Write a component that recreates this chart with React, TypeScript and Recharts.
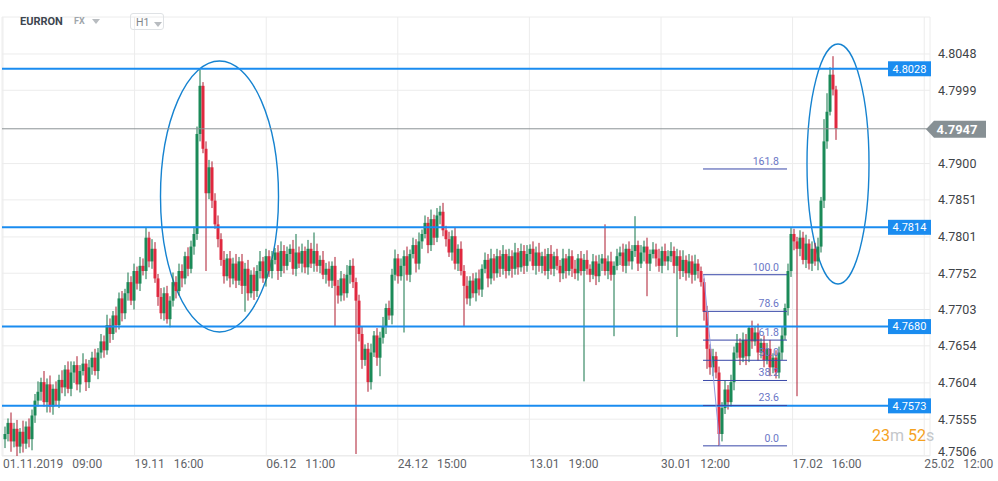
import React from 'react';
import { ComposedChart, Bar, XAxis, YAxis, CartesianGrid, ReferenceLine, ReferenceArea } from 'recharts';

// ---------- data (prices in pips above 4.7500) ----------
const BASE = 4.75;
const PIP = 0.0001;
const firstOpen = 28;

const closesA = [
  35, 50, 25, 42, 18, 38, 22, 45, 28, 60,
  80, 92, 105, 78, 102, 72, 96, 80, 108, 98,
  122, 96, 118, 128, 102, 120, 130, 105, 125, 138,
  120, 145, 160, 148, 182, 170, 195, 182, 218, 198,
  225, 240, 215, 255, 238, 262, 255, 300, 268, 285,
  245, 220, 198, 225, 190, 215, 240, 228, 255, 245,
  275, 258, 288, 305, 440, 505, 420, 360, 395, 350,
];
const closesB = [
  318, 298, 270, 248, 272, 245, 265, 242, 268, 235,
  258, 225, 250, 228, 255, 268, 245, 275, 255, 270,
  280, 255, 282, 262, 278, 285, 258, 280, 265, 282,
  260, 285, 265, 282, 262, 270, 250, 258, 242, 262,
  235, 222, 245, 225, 250, 262, 240, 215, 170, 135,
  150, 105, 145, 168, 138, 165, 180, 205, 195, 250,
  272, 248, 262, 275, 250, 278, 290, 265, 295, 305,
];
const closesC = [
  320, 290, 325, 300, 330, 335, 310, 298, 280, 302,
  265, 285, 255, 235, 218, 242, 225, 245, 230, 258,
  270, 245, 272, 252, 275, 258, 278, 255, 275, 258,
  280, 260, 282, 262, 278, 285, 262, 280, 262, 275,
  255, 278, 258, 275, 262, 252, 272, 255, 275, 258,
  252, 272, 255, 270, 258, 250, 268, 248, 265, 272,
  255, 268, 250, 262, 275, 280, 262, 285, 268, 282,
];
const closesD = [
  290, 265, 280, 288, 265, 278, 284, 272, 262, 282,
  268, 275, 282, 262, 275, 255, 270, 252, 268, 250,
  265, 255, 240, 200, 150, 125, 140, 118, 35, 70,
  95, 78, 105, 145, 158, 138, 162, 140, 178, 160,
  172, 145, 158, 135, 150, 125, 138, 118, 145, 168,
  205, 255, 305, 295, 285, 300, 270, 292, 265, 285,
  268, 288, 350, 430, 470, 520, 500, 447,
];

const highWick = [
  10, 6, 14, 8, 12, 5, 15, 7, 11, 8,
  9, 14, 6, 15, 8, 12, 6, 10, 7, 13,
  6, 11, 15, 5, 12, 8, 14, 6, 10, 8,
  12, 6, 10, 8, 14, 9, 6, 12, 8, 10,
  6, 13, 8, 10, 6, 12, 10, 14, 8, 13,
  9, 6, 12, 8, 10, 6, 13, 8, 10, 9,
  6, 12, 8, 10, 10, 22, 5, 10, 10, 8,
  10, 12, 8, 12, 6, 10, 8, 13, 6, 10,
  8, 12, 6, 10, 8, 14, 6, 10, 8, 12,
  6, 10, 13, 8, 10, 6, 12, 25, 8, 10,
  6, 12, 8, 25, 10, 6, 12, 8, 10, 6,
  12, 8, 10, 6, 13, 8, 10, 6, 8, 10,
  6, 8, 12, 6, 10, 8, 13, 6, 10, 8,
  12, 6, 10, 8, 13, 6, 10, 8, 12, 6,
  10, 8, 13, 6, 10, 8, 12, 6, 10, 8,
  12, 6, 10, 8, 13, 6, 10, 8, 12, 6,
  10, 8, 13, 6, 10, 8, 12, 6, 10, 8,
  13, 6, 10, 8, 12, 6, 10, 8, 13, 6,
  10, 8, 12, 6, 10, 8, 13, 6, 10, 8,
  12, 6, 10, 8, 13, 6, 10, 8, 12, 6,
  46, 8, 13, 6, 10, 8, 12, 6, 10, 8,
  39, 6, 10, 8, 12, 6, 10, 8, 13, 6,
  10, 8, 12, 6, 10, 8, 13, 6, 10, 8,
  12, 6, 6, 5, 8, 6, 10, 6, 8, 8,
  12, 6, 10, 8, 12, 6, 10, 8, 2, 10,
  8, 12, 6, 10, 8, 12, 6, 10, 8, 12,
  6, 10, 8, 7, 6, 10, 8, 12, 6, 10,
  8, 12, 5, 30, 25, 10, 25, 5,
];
const lowWick = [
  12, 10, 14, 8, 15, 9, 12, 7, 11, 15,
  10, 8, 12, 6, 14, 8, 11, 6, 10, 8,
  12, 6, 10, 14, 8, 11, 6, 12, 8, 10,
  6, 11, 8, 10, 6, 12, 8, 10, 6, 11,
  8, 10, 6, 12, 8, 10, 6, 11, 8, 10,
  6, 12, 8, 10, 6, 11, 8, 10, 6, 12,
  8, 10, 6, 11, 8, 10, 6, 105, 8, 10,
  6, 11, 8, 10, 6, 12, 8, 10, 6, 11,
  35, 10, 6, 12, 8, 10, 6, 11, 8, 10,
  6, 12, 8, 10, 6, 11, 8, 10, 6, 12,
  8, 10, 6, 11, 8, 10, 6, 12, 8, 10,
  55, 11, 8, 10, 6, 12, 8, 207, 10, 12,
  8, 13, 10, 6, 11, 25, 8, 10, 6, 12,
  8, 10, 6, 90, 8, 10, 6, 12, 8, 10,
  6, 11, 8, 10, 6, 12, 8, 10, 6, 11,
  8, 10, 6, 55, 8, 10, 6, 11, 8, 10,
  6, 12, 8, 10, 6, 11, 8, 10, 6, 12,
  8, 10, 6, 11, 8, 10, 6, 12, 8, 10,
  6, 11, 8, 10, 6, 12, 8, 10, 6, 11,
  8, 10, 6, 149, 8, 10, 6, 12, 8, 10,
  6, 11, 8, 83, 6, 12, 8, 10, 6, 11,
  8, 10, 6, 12, 44, 10, 6, 11, 8, 10,
  6, 12, 8, 10, 96, 11, 8, 10, 6, 12,
  8, 10, 6, 12, 27, 10, 12, 8, 16, 10,
  8, 10, 6, 11, 8, 10, 6, 12, 8, 10,
  6, 11, 8, 10, 6, 12, 8, 8, 8, 10,
  6, 10, 8, 12, 199, 10, 6, 11, 8, 10,
  6, 12, 8, 10, 10, 5, 8, 15,
];

// x axis (bar index units)
const X_MAX = 309.33;
const xTickIdx = [0.33, 44.2, 88.07, 131.93, 175.8, 219.67, 263.53, 307.4];
const xTickDate = ['01.11.2019', '19.11', '06.12', '24.12', '13.01', '30.01', '17.02', '25.02'];
const xTickTime = ['09:00', '16:00', '11:00', '15:00', '19:00', '12:00', '16:00', '12:00'];

// y axis
const Y_DOMAIN: [number, number] = [4.75053, 4.80979];
const yTicks = [4.8048, 4.7999, 4.79, 4.7851, 4.7801, 4.7752, 4.7703, 4.7654, 4.7604, 4.7555, 4.7506];

// support / resistance levels
const levels = [4.8028, 4.7814, 4.768, 4.7573];
const lastPrice = 4.7947;

// fibonacci retracement
const fibLow = 4.7519;
const fibHigh = 4.775;
const fibRatios = [0, 23.6, 38.2, 50, 61.8, 78.6, 100, 161.8];
const fibStartIdx = 233.67;
const fibEndIdx = 261.67;
const fibDiagFrom = { x: 233.9, y: 4.775 };
const fibDiagTo = { x: 239.3, y: 4.7519 };

// highlight ellipses
const ellipses = [
  { x1: 52.83, x2: 92.17, y1: 4.76727, y2: 4.80386 },
  { x1: 268.33, x2: 289.0, y1: 4.77375, y2: 4.80615 },
];

const closes = [...closesA, ...closesB, ...closesC, ...closesD];
const candles = closes.map((c, k) => {
  const o = k === 0 ? firstOpen : closes[k - 1];
  const hi = Math.max(o, c) + highWick[k];
  const lo = Math.min(o, c) - lowWick[k];
  return {
    i: k + 1,
    open: BASE + o * PIP,
    close: BASE + c * PIP,
    high: BASE + hi * PIP,
    low: BASE + lo * PIP,
  };
});

// ---------- rendering helpers ----------
const Candle = (props: any) => {
  const { x, y, width, height, payload } = props;
  if (!payload || x == null) return null;
  const { open, close, high, low } = payload;
  const top = Math.min(y, y + height);
  const h = Math.abs(height);
  const range = high - low;
  const k = range > 0 ? h / range : 0;
  const cx = x + width / 2;
  const up = close >= open;
  const bTop = top + (high - Math.max(open, close)) * k;
  const bBot = top + (high - Math.min(open, close)) * k;
  const bh = Math.max(1, bBot - bTop);
  return (
    <g>
      <line x1={cx} x2={cx} y1={top} y2={top + h} stroke={up ? '#137548' : '#ad1a2f'} strokeWidth={1} />
      <rect x={x} y={bTop} width={width} height={bh} fill={up ? '#1b8a58' : '#e0283f'} />
    </g>
  );
};

const XTick = (props: any) => {
  const { x, y, index } = props;
  return (
    <text x={x} y={y + 12} fontSize={12} fill="#5f6368" fontFamily="Roboto, sans-serif">
      <tspan>{xTickDate[index]}</tspan>
      <tspan dx={9}>{xTickTime[index]}</tspan>
    </text>
  );
};

const YTick = (props: any) => {
  const { x, y, payload, index } = props;
  const shift = index === yTicks.length - 1 ? -4 : 0;
  return (
    <text x={x + 8} y={y + shift} dy="0.35em" fontSize={12.5} fill="#3f4448" fontFamily="Roboto, sans-serif">
      {Number(payload.value).toFixed(4)}
    </text>
  );
};

const LevelTag = (props: any) => {
  const { viewBox, text } = props;
  if (!viewBox) return null;
  const right = viewBox.x + viewBox.width;
  return (
    <g>
      <rect x={right - 42} y={viewBox.y - 7.5} width={43} height={15} fill="#1a8cf0" />
      <text x={right - 20.5} y={viewBox.y} dy="0.35em" textAnchor="middle" fontSize={11} fill="#ffffff" fontFamily="Roboto, sans-serif">
        {text}
      </text>
    </g>
  );
};

const PriceTag = (props: any) => {
  const { viewBox, text } = props;
  if (!viewBox) return null;
  const x0 = viewBox.x + viewBox.width - 4;
  const cy = viewBox.y + 0.5;
  const pts = `${x0},${cy} ${x0 + 8},${cy - 8.5} ${x0 + 60},${cy - 8.5} ${x0 + 60},${cy + 8.5} ${x0 + 8},${cy + 8.5}`;
  return (
    <g>
      <polygon points={pts} fill="#879094" />
      <text x={x0 + 31} y={cy} dy="0.36em" textAnchor="middle" fontSize={13} fontWeight="bold" fill="#ffffff" fontFamily="Roboto, sans-serif">
        {text}
      </text>
    </g>
  );
};

const FibLabel = (props: any) => {
  const { viewBox, text } = props;
  if (!viewBox) return null;
  return (
    <text x={viewBox.x + viewBox.width - 8} y={viewBox.y - 4} textAnchor="end" fontSize={10.5} fill="#6a76c6" fontFamily="Roboto, sans-serif">
      {text}
    </text>
  );
};

const EllipseShape = (props: any) => {
  const { x, y, width, height } = props;
  if (x == null) return null;
  return (
    <ellipse cx={x + width / 2} cy={y + height / 2} rx={Math.abs(width) / 2} ry={Math.abs(height) / 2} fill="none" stroke="#1683d0" strokeWidth={1.4} />
  );
};

const Caret = ({ color }: { color: string }) => (
  <svg width={8} height={5} style={{ display: 'inline-block', verticalAlign: 'middle' }}>
    <polygon points="0,0 8,0 4,5" fill={color} />
  </svg>
);

export default function App() {
  return (
    <div style={{ position: 'absolute', left: 0, top: 0, width: 998, height: 481, background: '#ffffff', fontFamily: 'Roboto, sans-serif', overflow: 'hidden' }}>
      <ComposedChart width={998} height={481} data={candles} margin={{ top: 17, right: 0, bottom: 0, left: 2 }}>
        <CartesianGrid stroke="#ececec" strokeWidth={1} />
        <XAxis
          dataKey="i"
          type="number"
          domain={[0, X_MAX]}
          ticks={xTickIdx}
          interval={0}
          tick={<XTick />}
          tickLine={false}
          axisLine={false}
          tickSize={0}
          tickMargin={0}
          height={25}
          allowDataOverflow
        />
        <YAxis
          orientation="right"
          type="number"
          domain={Y_DOMAIN}
          ticks={yTicks}
          interval={0}
          tick={<YTick />}
          tickLine={false}
          axisLine={false}
          tickSize={0}
          tickMargin={0}
          width={68}
          allowDataOverflow
        />
        <Bar dataKey={(d: any) => [d.low, d.high]} barSize={3} shape={(p: any) => <Candle {...p} />} isAnimationActive={false} />
        {levels.map((v) => (
          <ReferenceLine key={v} y={v} stroke="#1a8cf0" strokeWidth={2} label={<LevelTag text={v.toFixed(4)} />} />
        ))}
        <ReferenceLine y={lastPrice} stroke="#8c9396" strokeWidth={1} label={<PriceTag text={lastPrice.toFixed(4)} />} />
        {fibRatios.map((r) => {
          const v = fibLow + (r / 100) * (fibHigh - fibLow);
          return (
            <ReferenceLine
              key={r}
              segment={[{ x: fibStartIdx, y: v }, { x: fibEndIdx, y: v }]}
              stroke="#3847a8"
              strokeWidth={1}
              label={<FibLabel text={r.toFixed(1)} />}
            />
          );
        })}
        <ReferenceLine segment={[fibDiagFrom, fibDiagTo]} stroke="#8e9ae0" strokeWidth={1} />
        {ellipses.map((e, k) => (
          <ReferenceArea key={k} x1={e.x1} x2={e.x2} y1={e.y1} y2={e.y2} ifOverflow="visible" shape={(p: any) => <EllipseShape {...p} />} />
        ))}
      </ComposedChart>

      <div style={{ position: 'absolute', left: 20, top: 15, fontSize: 11, fontWeight: 700, color: '#3d4650' }}>EURRON</div>
      <div style={{ position: 'absolute', left: 74, top: 16, fontSize: 9, fontWeight: 700, color: '#a0a6ab' }}>
        FX <span style={{ marginLeft: 5 }}><Caret color="#b8bcc0" /></span>
      </div>
      <div style={{ position: 'absolute', left: 130, top: 13, width: 34, height: 17, border: '1px solid #dfe2e5', borderRadius: 3, boxSizing: 'border-box' }}>
        <span style={{ position: 'absolute', left: 5, top: 2, fontSize: 10.5, color: '#80868b' }}>H1</span>
        <span style={{ position: 'absolute', left: 23, top: 0 }}><Caret color="#b8bcc0" /></span>
      </div>
      <div style={{ position: 'absolute', left: 872, top: 426, fontSize: 16, whiteSpace: 'pre' }}>
        <span style={{ color: '#f5a21f' }}>23</span>
        <span style={{ color: '#c4c7ca' }}>m </span>
        <span style={{ color: '#f5a21f' }}>52</span>
        <span style={{ color: '#c4c7ca' }}>s</span>
      </div>
    </div>
  );
}
